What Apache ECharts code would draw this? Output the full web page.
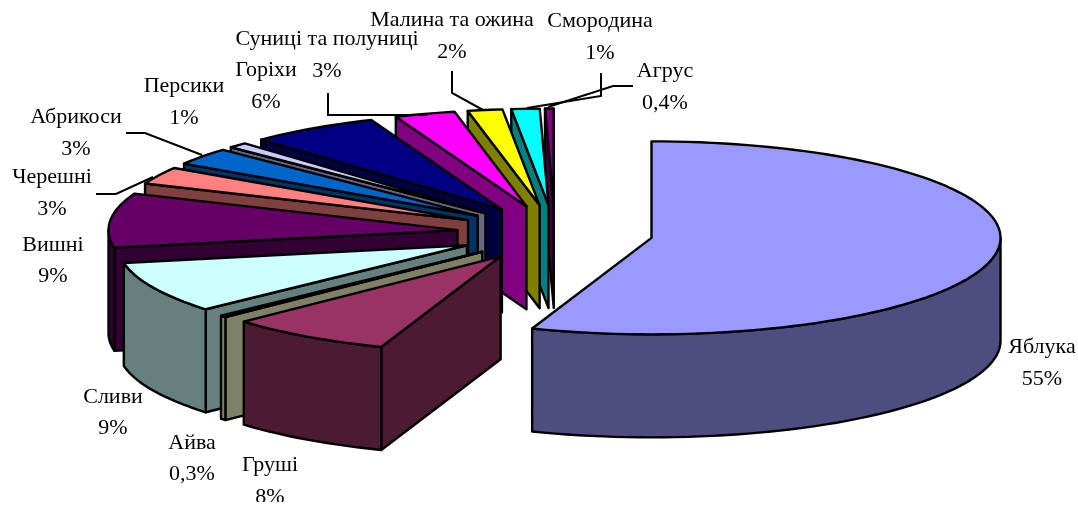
<!DOCTYPE html>
<html>
<head>
<meta charset="utf-8">
<style>
html, body { margin: 0; padding: 0; background: #fff; }
#chart { width: 1078px; height: 502px; overflow: hidden; }
</style>
<script src="https://cdn.jsdelivr.net/npm/echarts@6/dist/echarts.min.js"></script>
</head>
<body>
<div id="chart"></div>
<script>
// values, clockwise from 12 o'clock
var names = ["Яблука", "Груші", "Айва", "Сливи", "Вишні", "Черешні", "Абрикоси", "Персики", "Горіхи", "Суниці та полуниці", "Малина та ожина", "Смородина", "Агрус"];
var values = [55.5, 7.6, 0.3, 8.6, 9.1, 2.9, 2.9, 0.9, 6, 2.8, 1.6, 1.3, 0.4];
var percents = ["55%", "8%", "0,3%", "9%", "9%", "3%", "3%", "1%", "6%", "3%", "2%", "1%", "0,4%"];
var topColors = ["#9999FF", "#993366", "#FFFFCC", "#CCFFFF", "#660066", "#FF8080", "#0066CC", "#CCCCFF", "#000080", "#FF00FF", "#FFFF00", "#00FFFF", "#800080"];
var wallColors = ["#4D4D80", "#4D1A33", "#808066", "#668080", "#330033", "#804040", "#003366", "#666680", "#000040", "#800080", "#808000", "#008080", "#400040"];

// label centres [x, y of first line, y of second line]
var labelPos = [[1042, 347, 379], [270, 465, 497], [192, 443, 474], [113, 397, 428], [53, 245, 276], [52, 177, 209], [76, 117, 149], [184, 86, 118], [266, 70, 102], [327, 39, 71], [452, 20, 52], [600, 21, 53], [665, 71, 103]];
// leader lines
var leaders = {
    5: [[96, 194], [116, 194], [153, 177]],
    6: [[126, 133], [145, 133], [202, 155]],
    9: [[328, 93], [328, 115], [427, 115]],
    10: [[452, 71], [452, 93], [483, 110]],
    11: [[601, 73], [601, 96], [527, 108]],
    12: [[633, 86], [613, 86], [548, 107]]
};

var cx = 555, cy = 233;     // pie centre before explosion
var rx = 349, ry = 96.5;    // top ellipse
var depth = 103;            // height of the wall
var explodeX = 98, explodeY = 28;

var total = values.reduce(function (a, b) { return a + b; }, 0);
var starts = [];
var acc = 0;
values.forEach(function (v) {
    starts.push(acc / total * 360);
    acc += v;
});

function rad(d) {
    return d * Math.PI / 180;
}

function arcPoints(ax, ay, a0, a1, dy) {
    var pts = [];
    var n = Math.max(2, Math.ceil((a1 - a0) / 2));
    for (var i = 0; i <= n; i++) {
        var a = rad(a0 + (a1 - a0) * i / n);
        pts.push([ax + rx * Math.sin(a), ay - ry * Math.cos(a) + dy]);
    }
    return pts;
}

function poly(points, fill, z2) {
    return {
        type: "polygon",
        z2: z2,
        shape: { points: points },
        style: { fill: fill, stroke: "#000", lineWidth: 2.4, lineJoin: "round" }
    };
}

function renderSlice(params, api) {
    var i = api.value(0);
    var a0 = starts[i];
    var a1 = a0 + api.value(1) / total * 360;
    var mid = rad((a0 + a1) / 2);
    var ax = cx + explodeX * Math.sin(mid);
    var ay = cy - explodeY * Math.cos(mid);
    // back slices are painted first, Груші last
    var z = i === 0 ? 0 : (values.length - i) * 3;
    var children = [];

    // radial wall on the start edge, only the left half shows it
    if (a0 > 180) {
        var e = arcPoints(ax, ay, a0, a0, 0)[0];
        children.push(poly([[ax, ay], e, [e[0], e[1] + depth], [ax, ay + depth]], wallColors[i], z));
    }
    // outer wall, visible between 90 and 270 degrees
    var w0 = Math.max(a0, 90), w1 = Math.min(a1, 270);
    if (w1 > w0) {
        var upper = arcPoints(ax, ay, w0, w1, 0);
        var lower = arcPoints(ax, ay, w0, w1, depth).reverse();
        children.push(poly(upper.concat(lower), wallColors[i], z + 1));
    }
    children.push(poly([[ax, ay]].concat(arcPoints(ax, ay, a0, a1, 0)), topColors[i], z + 2));

    return { type: "group", children: children };
}

function renderLabel(params, api) {
    var i = api.value(0);
    var pos = labelPos[i];
    var font = "22px 'Liberation Serif'";
    var children = [
        { type: "text", z2: 100, style: { text: names[i], x: pos[0], y: pos[1], align: "center", verticalAlign: "middle", font: font, fill: "#000" } },
        { type: "text", z2: 100, style: { text: percents[i], x: pos[0], y: pos[2], align: "center", verticalAlign: "middle", font: font, fill: "#000" } }
    ];
    if (leaders[i]) {
        children.push({
            type: "polyline",
            z2: 100,
            shape: { points: leaders[i] },
            style: { fill: null, stroke: "#000", lineWidth: 2 }
        });
    }
    return { type: "group", children: children };
}

var rows = values.map(function (v, i) { return [i, v]; });

var myChart = echarts.init(document.getElementById("chart"), null, { renderer: "canvas" });
myChart.setOption({
    animation: false,
    backgroundColor: "#fff",
    series: [
        { type: "custom", coordinateSystem: "none", silent: true, clip: false, renderItem: renderSlice, data: rows },
        { type: "custom", coordinateSystem: "none", silent: true, clip: false, renderItem: renderLabel, data: rows, z: 3 }
    ]
});
</script>
</body>
</html>
